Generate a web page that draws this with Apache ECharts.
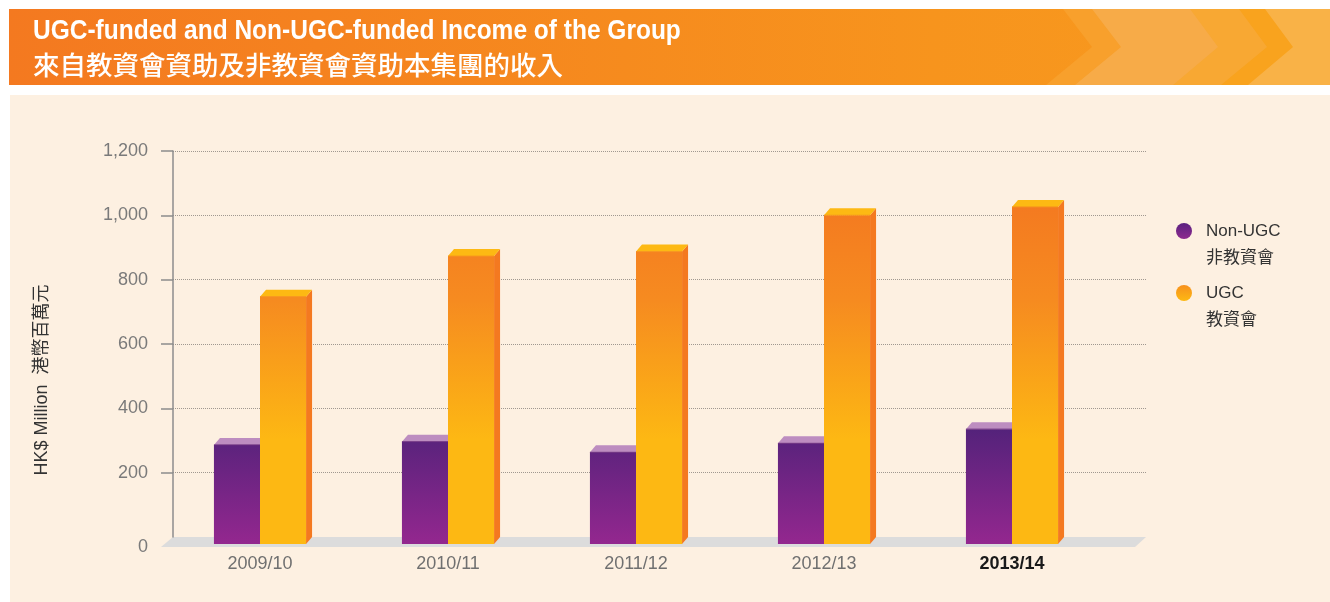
<!DOCTYPE html>
<html>
<head>
<meta charset="utf-8">
<script src="https://cdn.jsdelivr.net/npm/echarts@6/dist/echarts.min.js"></script>
<style>
html,body{margin:0;padding:0;background:#ffffff;}
#chart{width:1330px;height:602px;}
</style>
</head>
<body>
<div id="chart"></div>
<script>
// ---- data ----
const categories = ['2009/10', '2010/11', '2011/12', '2012/13', '2013/14'];
const nonUGC = [308, 318, 285, 313, 357];
const ugc = [769, 895, 909, 1022, 1048];
const yMin = 0, yMax = 1200, yStep = 200;
const tickValues = [200, 400, 600, 800, 1000, 1200];
const titleEn = 'UGC-funded and Non-UGC-funded Income of the Group';
const titleZh = '來自教資會資助及非教資會資助本集團的收入';
const yName = 'HK$ Million  港幣百萬元';
const legendNames = [['Non-UGC', '非教資會'], ['UGC', '教資會']];
const highlightCategory = '2013/14';

// ---- styles ----
const LATIN = "'Liberation Sans', Arial, sans-serif";
const MIXED = "'Liberation Sans', 'Noto Sans CJK TC', sans-serif";
const CJK = "'Noto Sans CJK TC', sans-serif";
const DX = 6, DY = 7;

const purpleFront = new echarts.graphic.LinearGradient(0, 420, 0, 545, [
  {offset: 0, color: '#4f2279'}, {offset: 1, color: '#94278f'}], true);
const orangeFront = new echarts.graphic.LinearGradient(0, 200, 0, 440, [
  {offset: 0, color: '#f47920'}, {offset: 0.42, color: '#f68b20'}, {offset: 1, color: '#fdb813'}], true);

function bar3d(side, front, topColor, topEdge, sideColor) {
  return function (params, api) {
    const i = api.value(0), v = api.value(1);
    const base = api.coord([i, 0]);
    const top = api.coord([i, v]);
    const W = api.size([1, 0])[0] * 0.245;
    const x0 = base[0] + (side ? 0 : -W), x1 = x0 + W;
    const yb = base[1] + DY, yt = top[1] + DY;
    return {
      type: 'group',
      children: [
        {type: 'polygon', shape: {points: [[x1, yt], [x1 + DX, yt - DY], [x1 + DX, yb - DY], [x1, yb]]},
         style: {fill: sideColor}},
        {type: 'rect', shape: {x: x0, y: yt, width: W, height: yb - yt}, style: {fill: front}},
        {type: 'polygon', shape: {points: [[x0, yt], [x0 + DX, yt - DY], [x1 + DX, yt - DY], [x1, yt]]},
         style: {fill: topColor}},
        {type: 'line', shape: {x1: x0, y1: yt, x2: x1, y2: yt}, style: {stroke: topEdge, lineWidth: 1}}
      ]
    };
  };
}

// banner chevrons
const chevrons = [
  [1063, 1092, 1046, '#f8a02c'],
  [1092, 1121, 1075, '#f7ab48'],
  [1190, 1218, 1173, '#f8a833'],
  [1239, 1267, 1221, '#f9a31e'],
  [1265, 1293, 1248, '#f9b247']
];
const graphics = [
  {type: 'rect', z: -20, shape: {x: 10, y: 95, width: 1320, height: 507}, style: {fill: '#fdf0e1'}},
  {type: 'rect', z: -20, shape: {x: 9, y: 9, width: 1321, height: 76},
   style: {fill: new echarts.graphic.LinearGradient(0, 0, 1, 0, [
     {offset: 0, color: '#f47920'}, {offset: 0.7, color: '#f7941d'}, {offset: 1, color: '#f89b1f'}])}}
];
chevrons.forEach(c => graphics.push({type: 'polygon', z: -19,
  shape: {points: [[c[0], 9], [c[1], 47], [c[2], 85], [1330, 85], [1330, 9]]}, style: {fill: c[3]}}));
graphics.push(
  {type: 'text', z: 10, x: 33, y: 31, scaleX: 0.875,
   style: {text: titleEn, x: 0, y: 0, verticalAlign: 'middle', fill: '#ffffff',
    font: "bold 28px 'Liberation Sans Narrow', 'Liberation Sans', sans-serif"}},
  {type: 'text', z: 10, style: {text: titleZh, x: 33, y: 65, verticalAlign: 'middle', fill: '#ffffff',
    font: "500 26.5px " + CJK}},
  // floor
  {type: 'polygon', z: -5, shape: {points: [[173, 537], [1146, 537], [1135, 547], [161, 547]]},
   style: {fill: '#dcdcdc'}}
);
// legend
const legendColors = [
  new echarts.graphic.LinearGradient(0, 0, 0, 1, [{offset: 0, color: '#5a2180'}, {offset: 1, color: '#8e2a8e'}]),
  new echarts.graphic.LinearGradient(0, 0, 0, 1, [{offset: 0, color: '#f7901d'}, {offset: 1, color: '#fdb913'}])
];
legendNames.forEach((n, k) => {
  const y0 = 231 + k * 62;
  graphics.push(
    {type: 'circle', z: 10, shape: {cx: 1184, cy: y0, r: 8}, style: {fill: legendColors[k]}},
    {type: 'text', z: 10, style: {text: n[0], x: 1206, y: y0, verticalAlign: 'middle', fill: '#333333', font: '17px ' + LATIN}},
    {type: 'text', z: 10, style: {text: n[1], x: 1206, y: y0 + 26, verticalAlign: 'middle', fill: '#333333', font: '17px ' + CJK}}
  );
});

const chart = echarts.init(document.getElementById('chart'), null, {renderer: 'canvas'});
chart.setOption({
  animation: false,
  backgroundColor: '#ffffff',
  graphic: graphics,
  grid: [
    {left: 166, width: 940, top: 151, bottom: 65},
    {left: 173, right: 184, top: 151, bottom: 65}
  ],
  xAxis: [
    {type: 'category', gridIndex: 0, data: categories,
     axisLine: {show: false}, axisTick: {show: false}, splitLine: {show: false},
     axisLabel: {margin: 18, fontSize: 18, color: '#707070', fontFamily: LATIN,
       formatter: v => v === highlightCategory ? '{b|' + v + '}' : v,
       rich: {b: {fontSize: 18, fontWeight: 'bold', color: '#1a1a1a', fontFamily: LATIN}}}},
    {type: 'value', gridIndex: 1, min: 0, max: 1, show: false}
  ],
  yAxis: [
    {type: 'value', gridIndex: 0, min: yMin, max: yMax, interval: yStep, show: false},
    {type: 'value', gridIndex: 1, min: yMin, max: yMax, interval: yStep,
     name: yName, nameLocation: 'middle', nameRotate: 90, nameGap: 122,
     nameTextStyle: {fontSize: 18, color: '#333333', fontFamily: MIXED, padding: [0, 72, 0, 0]},
     axisLine: {show: true, lineStyle: {color: '#8c8c8c', width: 1.5}},
     axisTick: {show: true, length: 12, lineStyle: {color: '#8c8c8c', width: 1.5}, customValues: tickValues},
     axisLabel: {margin: 25, fontSize: 18, color: '#7a7a7a', fontFamily: LATIN,
       formatter: v => v === 0 ? '{z|0}' : v.toLocaleString('en-US'),
       rich: {z: {fontSize: 18, color: '#7a7a7a', fontFamily: LATIN, padding: [20, 0, 0, 0]}}},
     splitLine: {show: true, lineStyle: {color: '#a09890', width: 1, type: 'dotted'}}}
  ],
  series: [
    {name: 'Non-UGC', type: 'custom', xAxisIndex: 0, yAxisIndex: 0,
     data: nonUGC.map((v, i) => [i, v]),
     renderItem: bar3d(0, purpleFront, '#bd8dc0', '#6a2d7e', '#4a1d70')},
    {name: 'UGC', type: 'custom', xAxisIndex: 0, yAxisIndex: 0,
     data: ugc.map((v, i) => [i, v]),
     renderItem: bar3d(1, orangeFront, '#fdb913', '#f7941d', '#f47920')}
  ]
});
</script>
</body>
</html>
